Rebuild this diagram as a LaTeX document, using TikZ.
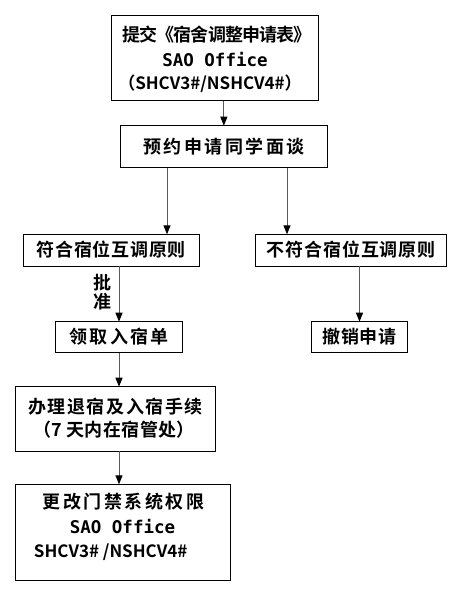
\documentclass[tikz,border=0pt]{standalone}
\usepackage{fontspec}
\newfontfamily\cjk{Noto Sans CJK SC Bold}
\newfontfamily\monob{DejaVu Sans Mono Bold}
\usetikzlibrary{arrows.meta}
\newcommand\cjkfont[1]{\cjk\fontsize{18}{21}\selectfont\addfontfeature{LetterSpace=#1}}
\newcommand\cjksmall{\cjk\fontsize{17}{20}\selectfont}
\tikzset{
  box/.style={draw=black,line width=1pt,inner sep=0pt,outer sep=0pt},
  txt/.style={inner sep=0pt,outer sep=0pt,text height=13.5pt,text depth=0pt},
  arr/.style={draw=black!65,line width=1pt,-{Triangle[length=9pt,width=7pt,color=black]}}
}
\begin{document}
\begin{tikzpicture}[x=1pt,y=-1pt]
\useasboundingbox (0,0) rectangle (465,603);
\fill[white] (0,0) rectangle (465,603);
% boxes
\node[box,minimum width=207.3pt,minimum height=85.7pt] (b1) at (215.3,57.85) {};
\node[txt,font=\cjkfont{-4.5}] (b1a) at (217,35) {提交《宿舍调整申请表》};
\node[txt,font=\monob\fontsize{17.5}{20}\selectfont] (b1b) at (215,59.3) {SAO Office};
\node[txt,font=\cjksmall] (b1c) at (210,82.7) {（SHCV3\#/NSHCV4\#）};

\node[box,txt,font=\cjkfont{14},minimum width=207.7pt,minimum height=42pt] (b2) at (223.85,146.7) {预约申请同学面谈};

\node[box,txt,font=\cjkfont{4},minimum width=176pt,minimum height=31.7pt] (b3) at (111.3,250.15) {符合宿位互调原则};
\node[box,txt,font=\cjkfont{5},minimum width=191pt,minimum height=31.7pt] (b4) at (351.2,250.15) {不符合宿位互调原则};

\node[box,txt,font=\cjkfont{13},minimum width=127pt,minimum height=31pt] (b5) at (119.2,337.2) {领取入宿单};
\node[box,txt,font=\cjkfont{4},minimum width=95.6pt,minimum height=31pt] (b6) at (359.5,337.2) {撤销申请};

\node[box,minimum width=199.3pt,minimum height=64.3pt] (b7) at (115.35,418.85) {};
\node[txt,font=\cjkfont{9}] (b7a) at (115.5,406.7) {办理退宿及入宿手续};
\node[txt,font=\cjkfont{2}] (b7b) at (114,430) {（7 天内在宿管处）};

\node[box,minimum width=214.3pt,minimum height=95.7pt] (b8) at (122.85,532.15) {};
\node[txt,font=\cjkfont{14}] (b8a) at (123.5,501.7) {更改门禁系统权限};
\node[txt,font=\monob\fontsize{17.5}{20}\selectfont] (b8b) at (122.5,526.7) {SAO Office};
\node[txt,font=\cjksmall,anchor=west] (b8c) at (34,551) {SHCV3\# /NSHCV4\#};

% label
\node[txt,font=\cjkfont{0}] (lab1) at (102.3,283) {批};
\node[txt,font=\cjkfont{0}] (lab2) at (102.3,302) {准};

% connector x positions
\coordinate (xl) at (167,0);
\coordinate (xr) at (287,0);
\coordinate (xm) at (119,0);

\draw[arr] (b1.south -| b2) -- (b2.north);
\draw[arr] (b2.south -| xl) -- (b3.north -| xl);
\draw[arr] (b2.south -| xr) -- (b4.north -| xr);
\draw[arr] (b3.south -| xm) -- (b5.north -| xm);
\draw[arr] (b4.south -| b6) -- (b6.north);
\draw[arr] (b5.south -| xm) -- (b7.north -| xm);
\draw[arr] (b7.south -| xm) -- (b8.north -| xm);
\end{tikzpicture}
\end{document}
